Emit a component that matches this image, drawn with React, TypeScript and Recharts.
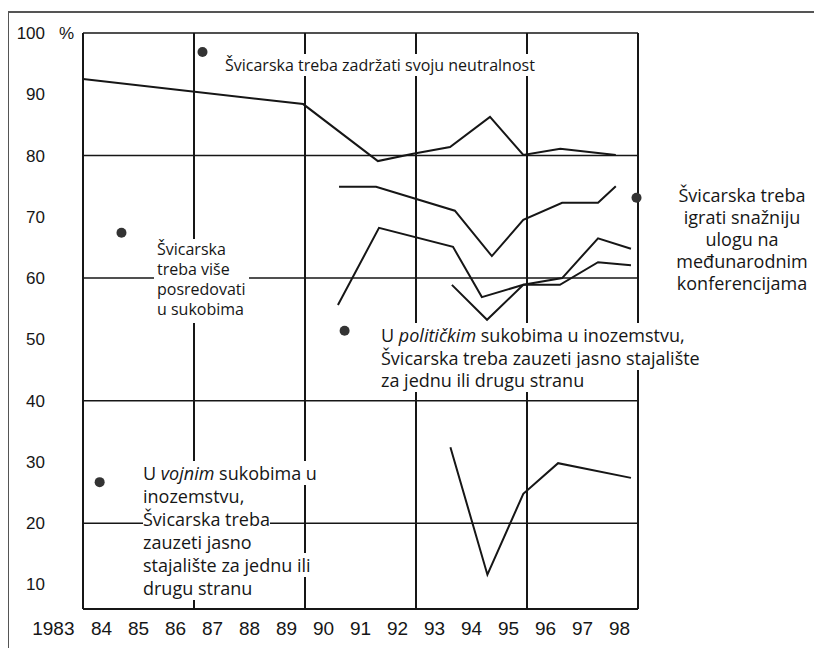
import { LineChart, Line, XAxis, YAxis, ReferenceLine, ReferenceDot } from 'recharts';

const yearTicks = [1983, 1984, 1985, 1986, 1987, 1988, 1989, 1990, 1991, 1992, 1993, 1994, 1995, 1996, 1997, 1998];
const yearLabels = ['1983', '84', '85', '86', '87', '88', '89', '90', '91', '92', '93', '94', '95', '96', '97', '98'];
const percentTicks = [10, 20, 30, 40, 50, 60, 70, 80, 90, 100];
const gridValues = [20, 40, 60, 80, 100];
const gridYears = [1986.5, 1989.5, 1992.5, 1995.5, 1998.5];

// zadržati neutralnost
const neutralX = [1983.5, 1989.45, 1991.47, 1992.42, 1993.42, 1994.5, 1995.4, 1996.4, 1997.9];
const neutralY = [92.5, 88.4, 79.1, 80.3, 81.4, 86.3, 80.1, 81.1, 80.1];

// snažnija uloga na konferencijama
const conferenceX = [1990.42, 1991.42, 1993.55, 1994.55, 1995.4, 1996.45, 1997.42, 1997.9];
const conferenceY = [74.9, 74.9, 71.0, 63.6, 69.5, 72.3, 72.3, 75.0];

// više posredovati
const mediateX = [1990.39, 1991.5, 1993.5, 1994.28, 1995.4, 1996.45, 1997.42, 1998.31];
const mediateY = [55.6, 68.2, 65.1, 56.9, 58.9, 60.0, 66.5, 64.8];

// politički sukobi
const politicalX = [1993.47, 1994.42, 1995.4, 1996.39, 1997.42, 1998.31];
const politicalY = [58.9, 53.2, 58.9, 58.9, 62.6, 62.1];

// vojni sukobi
const militaryX = [1993.43, 1994.43, 1995.4, 1996.34, 1998.31];
const militaryY = [32.4, 11.6, 24.8, 29.8, 27.4];

// oznake uz tekst
const bulletX = [1986.73, 1984.54, 1990.57, 1983.95, 1998.46];
const bulletY = [96.9, 67.4, 51.4, 26.7, 73.1];

const toPoints = (xs: number[], ys: number[]) => xs.map((x, i) => ({ x, y: ys[i] }));

const series = [
  toPoints(neutralX, neutralY),
  toPoints(conferenceX, conferenceY),
  toPoints(mediateX, mediateY),
  toPoints(politicalX, politicalY),
  toPoints(militaryX, militaryY),
];

const INK = '#161616';
const tickFont = '"Liberation Sans", Arial, sans-serif';
const noteFont = '"Open Sans", "Noto Sans", sans-serif';

const XTick = (props: any) => {
  const { x, y, payload } = props;
  const i = yearTicks.indexOf(payload.value);
  const first = i === 0;
  return (
    <text x={first ? x + 10 : x} y={y + 26} textAnchor={first ? 'end' : 'middle'}
      fontFamily={tickFont} fontSize={19} fill={INK}>
      {yearLabels[i]}
    </text>
  );
};

const YTick = (props: any) => {
  const { x, y, payload } = props;
  return (
    <g>
      <text x={x - 38} y={y + 6} textAnchor="end" fontFamily={tickFont} fontSize={17} fill={INK}>
        {payload.value}
      </text>
      {payload.value === 100 && (
        <text x={x - 24} y={y + 6} fontFamily={tickFont} fontSize={17} fill={INK}>%</text>
      )}
    </g>
  );
};

const note = (left: number, top: number, size: number, lh: number, extra: any = {}) => ({
  position: 'absolute' as const,
  left,
  top,
  fontFamily: noteFont,
  fontSize: size,
  lineHeight: `${lh}px`,
  color: INK,
  whiteSpace: 'nowrap' as const,
  ...extra,
});

const bg = { background: '#fff' };

export default function App() {
  return (
    <div style={{ position: 'relative', width: 806, height: 640 }}>
      <div style={{
        position: 'absolute', left: -1, top: 3, width: 813, height: 646,
        borderTop: '2px solid #555', borderLeft: '2px solid #555',
      }} />
      <LineChart width={806} height={640} margin={{ top: 25, right: 176, bottom: 0, left: 0 }}>
        <XAxis type="number" dataKey="x" domain={[1983.5, 1998.5]} allowDataOverflow
          ticks={yearTicks} interval={0} tick={<XTick />} tickLine={false} tickSize={0} tickMargin={0}
          height={39} axisLine={{ stroke: INK, strokeWidth: 2 }} />
        <YAxis type="number" dataKey="y" domain={[6, 100]} allowDataOverflow
          ticks={percentTicks} interval={0} tick={<YTick />} tickLine={false} tickSize={0} tickMargin={0}
          width={75} axisLine={{ stroke: INK, strokeWidth: 2 }} />
        {gridValues.map((v) => (
          <ReferenceLine key={`h${v}`} y={v} stroke={INK} strokeWidth={1.5} ifOverflow="visible" />
        ))}
        {gridYears.map((v) => (
          <ReferenceLine key={`v${v}`} x={v} stroke={INK} strokeWidth={2} ifOverflow="visible" />
        ))}
        {series.map((d, i) => (
          <Line key={i} data={d} dataKey="y" type="linear" stroke={INK} strokeWidth={2}
            dot={false} activeDot={false} isAnimationActive={false} />
        ))}
        {bulletX.map((x, i) => (
          <ReferenceDot key={`b${i}`} x={x} y={bulletY[i]} r={5} fill="#333" stroke="none" ifOverflow="visible" />
        ))}
      </LineChart>

      <div style={note(217, 47, 16, 20)}>
        <span style={bg}>Švicarska treba zadržati svoju neutralnost</span>
      </div>
      <div style={note(146, 231, 16, 20, { background: '#fff', padding: '0 3px', height: 84 })}>
        Švicarska<br />
        treba više<br />
        posredovati<br />
        u sukobima
      </div>
      <div style={note(373, 316, 18, 22.5)}>
        <span style={bg}>U <i>političkim</i> sukobima u inozemstvu,</span><br />
        <span style={bg}>Švicarska treba zauzeti jasno stajalište</span><br />
        <span style={bg}>za jednu ili drugu stranu</span>
      </div>
      <div style={note(135, 454, 18, 23)}>
        <span style={bg}>U <i>vojnim</i> sukobima u</span><br />
        <span style={bg}>inozemstvu,</span><br />
        <span style={bg}>Švicarska treba</span><br />
        <span style={bg}>zauzeti jasno</span><br />
        <span style={bg}>stajalište za jednu ili</span><br />
        <span style={bg}>drugu stranu</span>
      </div>
      <div style={note(664, 176, 18, 22, { width: 140, textAlign: 'center' })}>
        Švicarska treba<br />
        igrati snažniju<br />
        ulogu na<br />
        međunarodnim<br />
        konferencijama
      </div>
    </div>
  );
}
